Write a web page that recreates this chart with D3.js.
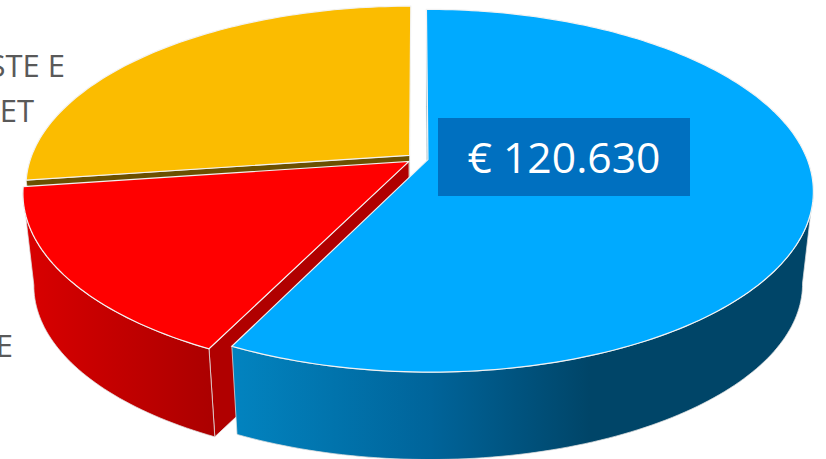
<!DOCTYPE html>
<html>
<head>
<meta charset="utf-8">
<script src="https://cdn.jsdelivr.net/npm/d3@7"></script>
<style>
    html, body { margin: 0; padding: 0; background: #fff; overflow: hidden; }
    text { font-family: "Open Sans", sans-serif; }
</style>
</head>
<body>
<div id="pie"></div>
<script>
// data, the category names are cut off by the left edge
const categories = ["blue", "E", "STE E\nET"];
const sliceValues = [120630, 32640, 57330];
const sliceLabels = ["", "E", "STE E\nET"];
const valueLabel = "€ 120.630";

// colours
const topColors = ["#00aaff", "#ff0000", "#fbbc00"];
const cutColors = ["#005f8c", "#b00000", "#6b5000"];

const w = 826, h = 459;

// perspective of the pie: unit circle on the ground -> screen
const cx = 417.6, cy = 158.5;
const radiusX = 379, radiusY = 175.7;
const eyeDist = 5.84;
const explode = 0.028;

// the lower disc is the upper one pulled towards the nadir
const nadir = [420, 3550];
const shrink = 0.9725;

// angles where the rim is widest on screen, the wall is only drawn between them
const wallFrom = Math.acos(-1 / eyeDist);
const wallTo = 2 * Math.PI - wallFrom;

let svg = d3.select("#pie").append("svg")
    .attr("width", w)
    .attr("height", h)
    .style("display", "block");

let defs = svg.append("defs");

function wallGradient(id, x1, x2, stops) {
    let g = defs.append("linearGradient")
        .attr("id", id)
        .attr("gradientUnits", "userSpaceOnUse")
        .attr("x1", x1).attr("x2", x2)
        .attr("y1", 0).attr("y2", 0);
    stops.forEach(function(s) {
        g.append("stop").attr("offset", s[0]).attr("stop-color", s[1]);
    });
}
wallGradient("wallBlue", 236, 590, [[0, "#0283bf"], [0.55, "#00649a"], [1, "#004568"]]);
wallGradient("wallRed", 30, 214, [[0, "#d80000"], [1, "#ab0000"]]);

let pie = d3.pie().sort(null).startAngle(0).endAngle(2 * Math.PI);
let slices = pie(sliceValues);

// a is clockwise from the top of the pie
function project(a, r, mid) {
    let u = r * Math.sin(a) + explode * Math.sin(mid);
    let v = -r * Math.cos(a) - explode * Math.cos(mid);
    let s = eyeDist / (eyeDist - v);
    return [cx + radiusX * u * s, cy + radiusY * v * s];
}

function lower(p) {
    return [nadir[0] + (p[0] - nadir[0]) * shrink, nadir[1] + (p[1] - nadir[1]) * shrink];
}

function arcAngles(a0, a1) {
    let n = Math.ceil(Math.abs(a1 - a0) / 0.02);
    return d3.range(n + 1).map(function(i) { return a0 + (a1 - a0) * i / n; });
}

let line = d3.line();

// back to front: yellow, red, blue
let order = [2, 1, 0];

order.forEach(function(i) {
    let d = slices[i];
    let mid = (d.startAngle + d.endAngle) / 2;
    let g = svg.append("g").attr("class", "slice");

    let apex = project(d.startAngle, 0, mid);
    let rim = project(d.startAngle, 1, mid);

    // cut face at the start of the slice
    g.append("path")
        .attr("d", line([apex, rim, lower(rim), lower(apex)]) + "Z")
        .attr("fill", cutColors[i])
        .attr("stroke", "#e8e8e8")
        .attr("stroke-width", 0.75);

    // outer wall, only the part facing the viewer
    let a0 = Math.max(d.startAngle, wallFrom);
    let a1 = Math.min(d.endAngle, wallTo);
    if (a1 > a0) {
        let upper = arcAngles(a0, a1).map(function(a) { return project(a, 1, mid); });
        let wall = upper.concat(upper.map(lower).reverse());
        g.append("path")
            .attr("d", line(wall) + "Z")
            .attr("fill", i === 0 ? "url(#wallBlue)" : "url(#wallRed)")
            .attr("stroke", "#e0e0e0")
            .attr("stroke-width", 0.75);
    }

    // top face
    let rimPoints = arcAngles(d.startAngle, d.endAngle).map(function(a) { return project(a, 1, mid); });
    g.append("path")
        .attr("d", line([apex].concat(rimPoints)) + "Z")
        .attr("fill", topColors[i])
        .attr("stroke", "#f2f2f2")
        .attr("stroke-width", 1.2);
});

// value label
svg.append("rect")
    .attr("x", 438).attr("y", 118)
    .attr("width", 252).attr("height", 78)
    .attr("fill", "#0070c0");

svg.append("text")
    .attr("x", 564).attr("y", 173)
    .attr("text-anchor", "middle")
    .attr("fill", "#ffffff")
    .attr("font-size", 42)
    .attr("textLength", 193)
    .attr("lengthAdjust", "spacingAndGlyphs")
    .text(valueLabel);

// category labels, running off the left edge
let labelAnchors = [null, [[13, 357]], [[65, 77], [34, 122]]];
sliceLabels.forEach(function(label, i) {
    if (!label) return;
    label.split("\n").forEach(function(part, j) {
        svg.append("text")
            .attr("x", labelAnchors[i][j][0])
            .attr("y", labelAnchors[i][j][1])
            .attr("text-anchor", "end")
            .attr("fill", "#595959")
            .attr("font-size", 31)
            .text(part);
    });
});
</script>
</body>
</html>
